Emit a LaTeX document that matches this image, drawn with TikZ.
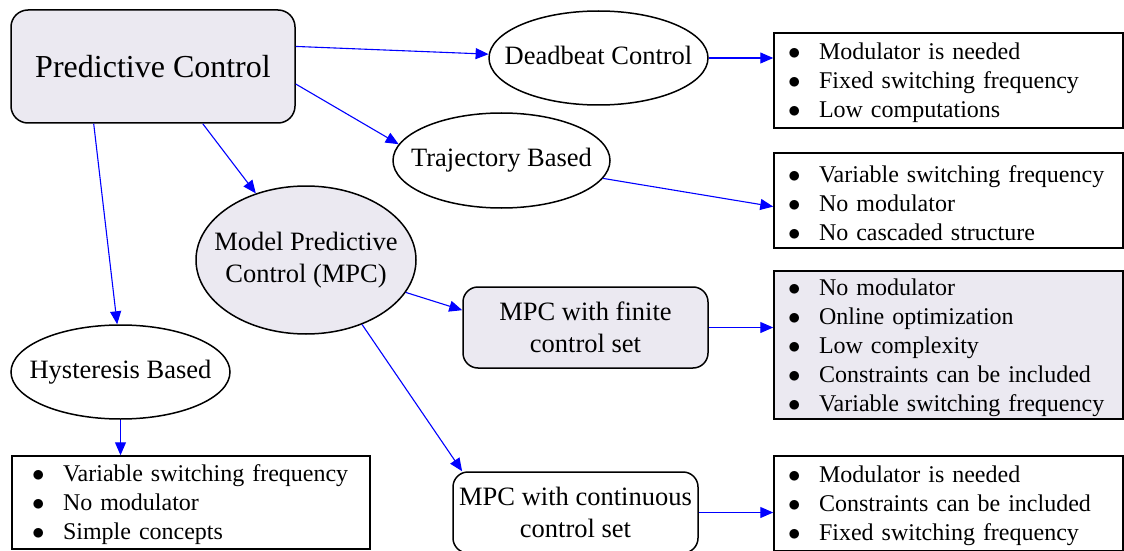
\documentclass[tikz,border=0pt]{standalone}
\usepackage{fontspec}
\setmainfont{Liberation Serif}
\usetikzlibrary{positioning,arrows.meta,shapes.geometric}
\definecolor{pcFill}{RGB}{235,233,241}
\definecolor{pcBlue}{RGB}{0,0,255}
\newcommand{\ovaltext}[1]{\makebox[0pt]{\begin{tabular}{@{}c@{}}#1\end{tabular}}}
\newcommand{\bitem}[1]{\rule{0pt}{22pt}\makebox[31pt][l]{$\bullet$}#1}

\begin{document}
\begin{tikzpicture}[x=1pt, y=1pt, >={Triangle[length=13pt,width=11pt]},
  oval/.style={ellipse, draw, line width=1.5pt, inner sep=0pt, font=\fontsize{26.5}{32}\selectfont},
  rbox/.style={rectangle, rounded corners=15pt, draw, line width=1.5pt, inner sep=0pt, align=center, minimum width=245pt, minimum height=81pt, font=\fontsize{26.5}{32}\selectfont},
  listbox/.style={rectangle, draw, line width=1.5pt, inner xsep=14pt, inner ysep=0pt, text width=321pt, align=left, minimum height=95pt, font=\fontsize{24}{29}\selectfont},
  link/.style={->, pcBlue, line width=1.1pt}]
  \useasboundingbox (0,0) rectangle (1124,550);

  \node[rbox, fill=pcFill, rounded corners=17pt, minimum width=284pt, minimum height=113pt, font=\fontsize{32}{38}\selectfont] (pc) at (153,483.5) {Predictive Control};
  \node[oval, minimum width=219pt, minimum height=94pt] (dead) at (598.5,492) {\ovaltext{Deadbeat Control}};
  \node[oval, minimum width=217pt, minimum height=95pt] (traj) at (501.5,389.5) {\ovaltext{Trajectory Based}};
  \node[oval, fill=pcFill, minimum width=220pt, minimum height=148pt] (mpc) at (306,290) {\ovaltext{Model Predictive\\Control (MPC)}};
  \node[oval, minimum width=219pt, minimum height=94pt] (hyst) at (120.5,178) {\ovaltext{Hysteresis Based}};
  \node[rbox, fill=pcFill] (fin) at (585.5,222.5) {MPC with finite\\control set};
  \node[rbox] (cont) at (575.5,37.5) {MPC with continuous\\control set};

  \node[listbox] (dlist) at (948.5,469.5) {\bitem{Modulator is needed}\\\bitem{Fixed switching frequency}\\\bitem{Low computations}};
  \node[listbox] (tlist) at (948.5,349.5) {\bitem{Variable switching frequency}\\\bitem{No modulator}\\\bitem{No cascaded structure}};
  \node[listbox, fill=pcFill, minimum height=148pt] (flist) at (948.5,205) {\bitem{No modulator}\\\bitem{Online optimization}\\\bitem{Low complexity}\\\bitem{Constraints can be included}\\\bitem{Variable switching frequency}};
  \node[listbox] (clist) at (948.5,46.5) {\bitem{Modulator is needed}\\\bitem{Constraints can be included}\\\bitem{Fixed switching frequency}};
  \node[listbox, text width=318pt, inner xsep=20pt, minimum height=93pt] (hlist) at (191,47.5) {\bitem{Variable switching frequency}\\\bitem{No modulator}\\\bitem{Simple concepts}};

  \draw[link] (pc.8.6) -- (dead.178);
  \draw[link] (pc.353.8) -- (traj.171.6);
  \draw[link] (pc.311.6) -- (mpc.127.8);
  \draw[link] (pc.224.7) -- (hyst.94);
  \draw[link] (dead.east) -- (dead.east -| dlist.west);
  \draw[link] (traj.350.1) -- (tlist.182);
  \draw[link] (mpc.342.9) -- (fin.172.8);
  \draw[link] (mpc.311.2) -- (cont.160.2);
  \draw[link] (fin.east) -- (fin.east -| flist.west);
  \draw[link] (cont.east) -- (cont.east -| clist.west);
  \draw[link] (hyst.south) -- (hyst.south |- hlist.north);
\end{tikzpicture}
\end{document}
